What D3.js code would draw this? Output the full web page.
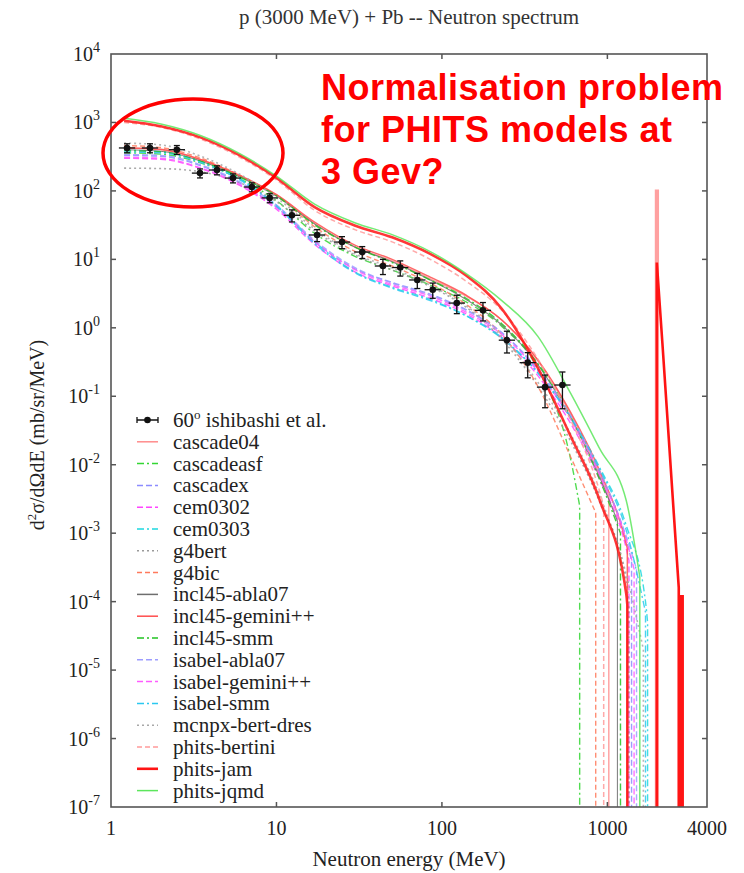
<!DOCTYPE html>
<html>
<head>
<meta charset="utf-8">
<script src="https://cdn.jsdelivr.net/npm/d3@7"></script>
<style>
body { margin: 0; background: #fff; }
</style>
</head>
<body>
<script>
var energyGrid = [1.2, 2, 3.5, 6, 10, 17, 30, 50, 85, 140, 230, 380, 600, 900, 1300, 1700];

// model values (mb/sr/MeV) on energyGrid, up to where each one stops
var cascade04 = [425, 400, 285, 165, 88, 33, 15, 9.5, 5.2, 2.9, 1.3, 0.33, 0.055, 0.007];
var cascadeasf = [360, 345, 255, 150, 72, 24, 11, 7, 4.2, 2.4, 1.05, 0.25, 0.012];
var cascadex = [330, 320, 232, 130, 58, 18, 7.2, 4.6, 3.1, 1.85, 0.85, 0.24, 0.05, 0.0075, 8e-4];
var cem0302 = [300, 290, 212, 120, 54, 16.5, 6.5, 4.1, 2.7, 1.6, 0.72, 0.2, 0.04, 0.006, 6e-4];
var cem0303 = [395, 375, 270, 150, 62, 18, 6.5, 3.9, 2.6, 1.5, 0.7, 0.22, 0.05, 0.009, 1.3e-3, 1e-4];
var g4bert = [215, 212, 190, 132, 70, 26, 11.5, 7, 4, 2, 0.68, 0.14, 0.022, 0.0028, 2e-4];
var g4bic = [460, 430, 300, 170, 85, 30, 13, 8, 4.5, 2.2, 0.8, 0.14, 0.013];
var incl45_abla07 = [400, 380, 272, 160, 84, 33, 15, 9.2, 5, 2.6, 1.1, 0.29, 0.048, 0.0065];
var incl45_gemini = [425, 405, 285, 168, 88, 35, 16, 10, 5.5, 3, 1.3, 0.34, 0.058, 0.008, 7e-4];
var incl45_smm = [385, 370, 270, 160, 85, 32, 15, 9, 5, 2.7, 1.15, 0.3, 0.05, 0.006];
var isabel_abla07 = [340, 330, 240, 135, 62, 19, 7.5, 4.5, 3, 1.8, 0.85, 0.25, 0.052, 0.008, 9e-4];
var isabel_gemini = [310, 300, 216, 125, 57, 18, 7, 4.3, 2.9, 1.7, 0.8, 0.23, 0.046, 0.007, 8e-4];
var isabel_smm = [370, 360, 260, 145, 60, 17, 6.3, 3.8, 2.5, 1.5, 0.72, 0.22, 0.048, 0.0085, 1.1e-3];
var mcnpx_bert_dres = [500, 470, 320, 175, 80, 28, 12, 7.5, 4.2, 2.1, 0.75, 0.16, 0.028, 0.0035, 2.5e-4];
var phits_bertini = [1000, 850, 570, 310, 145, 52, 27, 18, 10, 4.8, 1.8, 0.35, 0.045, 0.004];
var phits_jam = [1060, 880, 600, 330, 155, 58, 31, 21, 12, 5.8, 1.9, 0.26, 0.026, 0.003, 1.3e-4];
var phits_jqmd = [1150, 950, 640, 350, 165, 64, 34, 23, 13, 6.2, 2.5, 0.75, 0.11, 0.017, 3e-3];

var modelNames = ["cascade04", "cascadeasf", "cascadex", "cem0302", "cem0303", "g4bert", "g4bic",
    "incl45-abla07", "incl45-gemini++", "incl45-smm", "isabel-abla07", "isabel-gemini++", "isabel-smm",
    "mcnpx-bert-dres", "phits-bertini", "phits-jam", "phits-jqmd"];
var modelValues = [cascade04, cascadeasf, cascadex, cem0302, cem0303, g4bert, g4bic,
    incl45_abla07, incl45_gemini, incl45_smm, isabel_abla07, isabel_gemini, isabel_smm,
    mcnpx_bert_dres, phits_bertini, phits_jam, phits_jqmd];
// last point of each curve before it falls to zero
var modelCutE = [1020, 680, 1400, 1350, 1750, 1350, 850, 1150, 1320, 1200, 1500, 1450, 1700, 1650, 950, 1320, 1570];
var modelCutV = [3.5e-3, 2.5e-3, 4e-4, 4e-4, 5e-5, 1e-4, 2e-3, 1.5e-3, 6e-4, 1e-3, 3e-4, 3e-4, 7e-5, 2e-5, 2.5e-3, 9e-5, 2.3e-4];

// peaks near the beam energy
var bertiniPeakE = [1975, 1975, 2010, 2010];
var bertiniPeakV = [1e-7, 100, 100, 1e-7];
var jamPeakE = [1990, 1990, 2150, 2700, 2700, 2780, 2780, 2850, 2850];
var jamPeakV = [1e-7, 9, 0.6, 1.6e-4, 1e-7, 1e-7, 1.2e-4, 1.2e-4, 1e-7];

// 60 deg ishibashi et al.
var expE = [1.25, 1.72, 2.5, 3.45, 4.37, 5.46, 7.1, 9.1, 12.4, 17.6, 24.9, 33, 44, 56, 71, 88, 123, 177, 247, 330, 420, 535];
var expV = [424, 424, 400, 182, 202, 154, 114, 79, 44, 22.7, 17.9, 12.8, 8.0, 7.6, 5.0, 3.6, 2.3, 1.8, 0.66, 0.31, 0.136, 0.146];
var expErr = [0.15, 0.15, 0.15, 0.15, 0.15, 0.15, 0.15, 0.15, 0.2, 0.2, 0.2, 0.2, 0.25, 0.25, 0.25, 0.25, 0.3, 0.3, 0.35, 0.4, 0.5, 0.55];

var xTickValues = [1, 10, 100, 1000, 4000];
var yExponents = [4, 3, 2, 1, 0, -1, -2, -3, -4, -5, -6, -7];

var noteLines = ["Normalisation problem", "for PHITS models at", "3 Gev?"];

// styles
var modelColors = ["#ff8c8c", "#33d633", "#8c8cff", "#ff44ff", "#1ed8e0", "#9a9a9a", "#ff7a5c", "#6e6e6e",
    "#ff4d4d", "#22c422", "#9d9dff", "#ff5cff", "#2bc8f0", "#a8a8a8", "#ff9a9a", "#ff1414", "#5ce65c"];
var modelDash = ["", "7,3,2,3", "6,3", "6,3", "7,3,2,3", "2,3", "5,3", "", "", "7,3,2,3", "6,3", "6,3",
    "7,3,2,3", "2,3", "5,3", "", ""];
var modelWidth = [1.4, 1.4, 1.4, 1.4, 1.4, 1.6, 1.4, 1.1, 1.5, 1.4, 1.4, 1.4, 1.4, 1.6, 1.5, 2.6, 1.5];

var serif = "'Liberation Serif', 'Times New Roman', Times, Tinos, 'Noto Serif', 'DejaVu Serif', serif";
var W = 744, H = 873;
var plot = { left: 111, right: 707, top: 54, bottom: 807 };

var svg = d3.select("body").append("svg")
    .attr("width", W)
    .attr("height", H)
    .attr("font-family", serif);

var x = d3.scaleLog().domain([1, 4000]).range([plot.left, plot.right]);
var y = d3.scaleLog().domain([1e-7, 1e4]).range([plot.bottom, plot.top]);

svg.append("defs").append("clipPath")
    .attr("id", "clip")
    .append("rect")
    .attr("x", plot.left).attr("y", plot.top)
    .attr("width", plot.right - plot.left)
    .attr("height", plot.bottom - plot.top);

function label(sel) {
    return sel.append("text").style("font-family", serif).style("fill", "#222");
}

// title
label(svg)
    .attr("x", (plot.left + plot.right) / 2)
    .attr("y", 24)
    .attr("font-size", 21)
    .style("text-anchor", "middle")
    .style("fill", "#333")
    .text("p (3000 MeV) + Pb -- Neutron spectrum");

var curves = svg.append("g").attr("clip-path", "url(#clip)");

var smooth = d3.line()
    .x(function(d) { return x(d[0]); })
    .y(function(d) { return y(d[1]); })
    .curve(d3.curveMonotoneX);
var straight = d3.line()
    .x(function(d) { return x(d[0]); })
    .y(function(d) { return y(d[1]); });

modelValues.forEach(function(vals, m) {
    var pts = vals.map(function(v, i) { return [energyGrid[i], v]; });
    pts.push([modelCutE[m], modelCutV[m]]);
    curves.append("path")
        .attr("d", smooth(pts) + "V" + y(1e-7))
        .attr("fill", "none")
        .attr("stroke", modelColors[m])
        .attr("stroke-width", modelWidth[m])
        .attr("stroke-dasharray", modelDash[m] || null)
        .attr("opacity", 0.85);
});

// peaks at the beam energy
curves.append("path")
    .attr("d", straight(bertiniPeakE.map(function(e, i) { return [e, bertiniPeakV[i]]; })))
    .attr("fill", "none")
    .attr("stroke", "#ffa0a0")
    .attr("stroke-width", 3);
curves.append("path")
    .attr("d", straight(jamPeakE.map(function(e, i) { return [e, jamPeakV[i]]; })))
    .attr("fill", "none")
    .attr("stroke", modelColors[15])
    .attr("stroke-width", 2.6);

// experimental points
var expG = svg.append("g").attr("clip-path", "url(#clip)");
expE.forEach(function(e, i) {
    var v = expV[i], f = expErr[i];
    var cx = x(e), cy = y(v);
    expG.append("line")
        .attr("x1", cx).attr("x2", cx)
        .attr("y1", y(v * (1 + f))).attr("y2", y(v * (1 - f)))
        .attr("stroke", "#111").attr("stroke-width", 1.3);
    [v * (1 + f), v * (1 - f)].forEach(function(c) {
        expG.append("line")
            .attr("x1", cx - 3).attr("x2", cx + 3)
            .attr("y1", y(c)).attr("y2", y(c))
            .attr("stroke", "#111").attr("stroke-width", 1.3);
    });
    expG.append("line")
        .attr("x1", x(e / 1.12)).attr("x2", x(e * 1.12))
        .attr("y1", cy).attr("y2", cy)
        .attr("stroke", "#111").attr("stroke-width", 1.3);
    expG.append("circle")
        .attr("cx", cx).attr("cy", cy).attr("r", 3.3)
        .attr("fill", "#111");
});

// frame
svg.append("rect")
    .attr("x", plot.left).attr("y", plot.top)
    .attr("width", plot.right - plot.left)
    .attr("height", plot.bottom - plot.top)
    .attr("fill", "none")
    .attr("stroke", "#555")
    .attr("stroke-width", 1.6);

// x ticks and labels
xTickValues.forEach(function(t) {
    if (t > 1 && t < 4000) {
        svg.append("line").attr("x1", x(t)).attr("x2", x(t))
            .attr("y1", plot.bottom).attr("y2", plot.bottom - 5)
            .attr("stroke", "#555").attr("stroke-width", 1.5);
        svg.append("line").attr("x1", x(t)).attr("x2", x(t))
            .attr("y1", plot.top).attr("y2", plot.top + 5)
            .attr("stroke", "#555").attr("stroke-width", 1.5);
    }
    label(svg)
        .attr("x", x(t))
        .attr("y", plot.bottom + 28)
        .attr("font-size", 20)
        .style("text-anchor", "middle")
        .text(t);
});

// y ticks and labels
yExponents.forEach(function(p) {
    var ty = y(Math.pow(10, p));
    if (p < 4 && p > -7) {
        svg.append("line").attr("x1", plot.left).attr("x2", plot.left + 5)
            .attr("y1", ty).attr("y2", ty)
            .attr("stroke", "#555").attr("stroke-width", 1.5);
        svg.append("line").attr("x1", plot.right).attr("x2", plot.right - 5)
            .attr("y1", ty).attr("y2", ty)
            .attr("stroke", "#555").attr("stroke-width", 1.5);
    }
    var lab = label(svg)
        .attr("x", plot.left - 11)
        .attr("y", ty + 7)
        .attr("font-size", 20)
        .style("text-anchor", "end");
    lab.append("tspan").text("10");
    lab.append("tspan")
        .attr("dy", -9)
        .attr("font-size", 14)
        .text(p < 0 ? "-" + (-p) : p);
});

// axis titles
label(svg)
    .attr("x", (plot.left + plot.right) / 2)
    .attr("y", 866)
    .attr("font-size", 21)
    .style("text-anchor", "middle")
    .text("Neutron energy (MeV)");

var yt = label(svg)
    .attr("transform", "translate(44," + 435 + ") rotate(-90)")
    .attr("font-size", 20)
    .style("text-anchor", "middle");
yt.append("tspan").text("d");
yt.append("tspan").attr("dy", -8).attr("font-size", 13).text("2");
yt.append("tspan").attr("dy", 8).text("\u03c3/d\u03a9dE (mb/sr/MeV)");

// legend
var legY0 = 420, legStep = 21.8;
var leg = svg.append("g");
var row0 = leg.append("g").attr("transform", "translate(0," + legY0 + ")");
row0.append("line").attr("x1", 137).attr("x2", 158).attr("y1", 0).attr("y2", 0)
    .attr("stroke", "#111").attr("stroke-width", 1.5);
row0.append("line").attr("x1", 137).attr("x2", 137).attr("y1", -3).attr("y2", 3)
    .attr("stroke", "#111").attr("stroke-width", 1.3);
row0.append("line").attr("x1", 158).attr("x2", 158).attr("y1", -3).attr("y2", 3)
    .attr("stroke", "#111").attr("stroke-width", 1.3);
row0.append("circle").attr("cx", 147.5).attr("cy", 0).attr("r", 3.3).attr("fill", "#111");
var t0 = label(row0).attr("x", 173).attr("y", 7).attr("font-size", 21);
t0.append("tspan").text("60");
t0.append("tspan").attr("dy", -8).attr("font-size", 13).text("o");
t0.append("tspan").attr("dy", 8).text(" ishibashi et al.");

modelNames.forEach(function(name, m) {
    var row = leg.append("g")
        .attr("transform", "translate(0," + (legY0 + (m + 1) * legStep) + ")");
    row.append("line")
        .attr("x1", 137).attr("x2", 158).attr("y1", 0).attr("y2", 0)
        .attr("stroke", modelColors[m])
        .attr("stroke-width", Math.max(modelWidth[m], 1.5))
        .attr("stroke-dasharray", modelDash[m] || null);
    label(row)
        .attr("x", 173).attr("y", 7)
        .attr("font-size", 21)
        .text(name);
});

// annotation
svg.append("ellipse")
    .attr("cx", 193).attr("cy", 153)
    .attr("rx", 90).attr("ry", 54)
    .attr("fill", "none")
    .attr("stroke", "#ff0000")
    .attr("stroke-width", 3.5);

noteLines.forEach(function(s, i) {
    svg.append("text")
        .attr("x", 321)
        .attr("y", 100 + i * 42)
        .attr("font-size", 36)
        .style("font-family", "'Liberation Sans', Arial, sans-serif")
        .style("font-weight", "bold")
        .style("letter-spacing", "0.5px")
        .style("fill", "#ff0000")
        .text(s);
});
</script>
</body>
</html>
